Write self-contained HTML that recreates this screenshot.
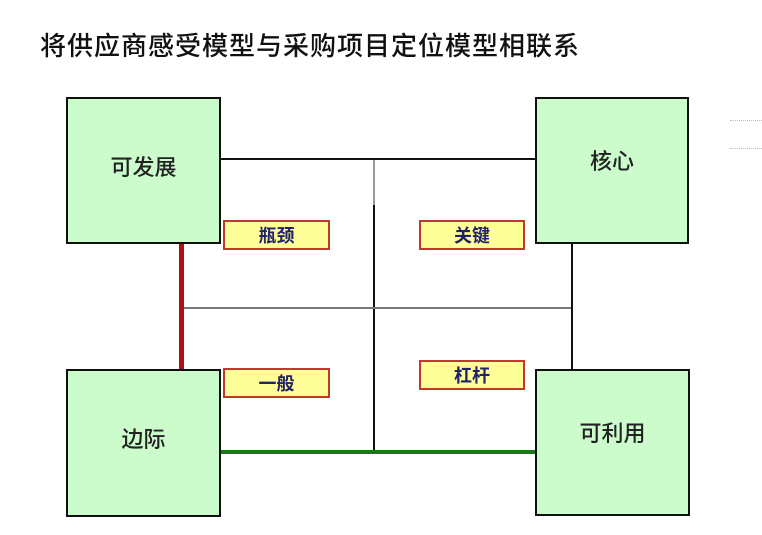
<!DOCTYPE html>
<html><head><meta charset="utf-8"><style>
body{margin:0;width:762px;height:535px;background:#fff;position:relative;overflow:hidden;font-family:"Liberation Sans","Noto Sans CJK SC",sans-serif}
.t{position:absolute;left:40px;top:26px;font-size:26px;color:#111;letter-spacing:1px;white-space:nowrap;font-weight:500}
.b{position:absolute;background:#ccfccc;border:2px solid #111;box-sizing:border-box;display:flex;align-items:center;justify-content:center;font-size:22px;color:#222;font-weight:500}
.l{position:absolute;background:#ffff99;border:2px solid #c0392b;box-sizing:border-box;display:flex;align-items:center;justify-content:center;font-size:18px;color:#22226a;font-weight:bold}
.h,.v{position:absolute;background:#111}
</style></head><body>
<div class="t">将供应商感受模型与采购项目定位模型相联系</div>
<div class="h" style="left:221px;top:158px;width:314px;height:2px"></div>
<div class="v" style="left:373px;top:160px;width:2px;height:292px"></div>
<div class="v" style="left:373px;top:160px;width:2px;height:45px;background:#999"></div>
<div class="h" style="left:182px;top:307px;width:390px;height:2px;background:#777"></div>
<div class="v" style="left:571px;top:243px;width:2px;height:126px"></div>
<div class="v" style="left:179px;top:243px;width:5px;height:126px;background:#b01010"></div>
<div class="h" style="left:221px;top:450px;width:314px;height:4px;background:#177a17"></div>
<div class="b" style="left:66px;top:97px;width:155px;height:147px;padding-bottom:10px">可发展</div>
<div class="b" style="left:535px;top:97px;width:154px;height:147px;padding-bottom:22px">核心</div>
<div class="b" style="left:66px;top:369px;width:155px;height:148px;padding-bottom:10px">边际</div>
<div class="b" style="left:535px;top:369px;width:155px;height:147px;padding-bottom:22px">可利用</div>
<div class="l" style="left:223px;top:220px;width:107px;height:30px">瓶颈</div>
<div class="l" style="left:419px;top:220px;width:106px;height:30px">关键</div>
<div class="l" style="left:223px;top:368px;width:107px;height:30px">一般</div>
<div class="l" style="left:419px;top:360px;width:106px;height:30px">杠杆</div>
<div style="position:absolute;left:730px;top:120px;width:32px;border-top:1px dotted #bbb"></div>
<div style="position:absolute;left:730px;top:148px;width:32px;border-top:1px dotted #bbb"></div>
</body></html>
